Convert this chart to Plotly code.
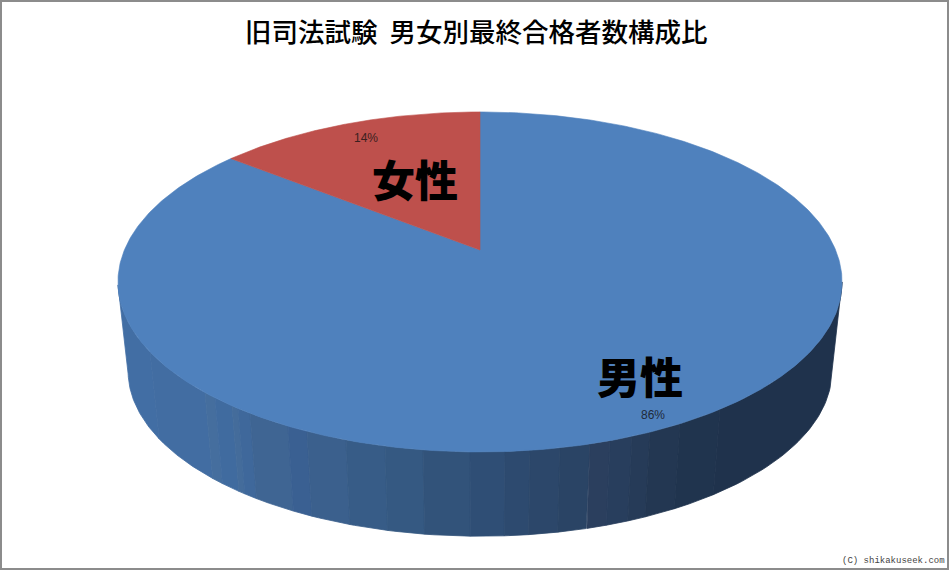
import numpy as np
import plotly.graph_objects as go

title = "旧司法試験  男女別最終合格者数構成比"
categories = ["男性", "女性"]
shares = [85.7, 14.3]
share_labels = ["86%", "14%"]
slice_colors = ["#4F81BD", "#BE504C"]
credit = "(C) shikakuseek.com"

# Rim shading: left edge of each band in pixels on the upper rim, with its colour
rim_stops = [118, 150, 205, 215, 232, 238, 250, 288, 307, 346, 385, 423, 470, 505, 530, 560, 590, 610, 632, 650, 680, 720]
rim_colors = ["#426EA4", "#426DA2", "#456E9E", "#406B9F", "#446C9B", "#3F689B", "#3F6593", "#3A6092",
              "#3B608D", "#375C87", "#355982", "#32537A", "#2F4E75", "#2D4A6F", "#2C476A", "#2A4465",
              "#2B3F5E", "#283E5D", "#263B58", "#233752", "#20344E", "#1F324C"]

# Perspective projection of the disc onto the page
CX, CY, A, B, K = 480.0, 250.0, 355.6, 164.0, -0.188
WIDE_Y, LOWER_WIDE_Y, LOWER_SCALE = 282.0, 371.0, 0.972


def top_point(theta):
    u, v = np.sin(theta), -np.cos(theta)
    d = 1 + K * v
    return CX + A * u / d, CY + B * v / d


def lower_point(theta):
    x, y = top_point(theta)
    return CX + (x - CX) * LOWER_SCALE, LOWER_WIDE_Y + (y - WIDE_Y) * LOWER_SCALE


fig = go.Figure()

# Rim bands
t_left, t_right = np.arccos(-0.188) * -1 + 2 * np.pi, np.arccos(-0.188)
grid = np.linspace(t_left, t_right, 1500)
grid_x = top_point(grid)[0]
edges = rim_stops + [float(grid_x[-1])]
to_theta = lambda px: float(np.interp(px, grid_x, grid))
for i, colour in enumerate(rim_colors):
    th = np.linspace(to_theta(edges[i]), to_theta(edges[i + 1]), 40)
    tx, ty = top_point(th)
    lx, ly = lower_point(th[::-1])
    fig.add_trace(go.Scatter(x=np.r_[tx, lx, tx[0]], y=np.r_[ty, ly, ty[0]], mode="lines", fill="toself",
                             fillcolor=colour, line=dict(color=colour, width=0.8), hoverinfo="skip", showlegend=False))

# Top face slices, clockwise from twelve o'clock
start = 0.0
total = sum(shares)
for name, share, colour in zip(categories, shares, slice_colors):
    end = start + 2 * np.pi * share / total
    th = np.linspace(start, end, 500)
    ax, ay = top_point(th)
    fig.add_trace(go.Scatter(x=np.r_[CX, ax, CX], y=np.r_[CY, ay, CY], mode="lines", fill="toself", name=name,
                             fillcolor=colour, line=dict(color=colour, width=0.6), hoverinfo="skip", showlegend=False))
    start = end

FONT = "Noto Sans CJK JP"
annotations = [
    dict(x=476, y=30, text=title.replace(" ", "\u00a0"), font=dict(family=FONT, size=26.5, color="#000000", weight=500)),
    dict(x=640, y=375, text=categories[0], font=dict(family=FONT, size=43, color="#000000", weight=900)),
    dict(x=415, y=178, text=categories[1], font=dict(family=FONT, size=43, color="#000000", weight=900)),
    dict(x=653, y=415, text=share_labels[0], font=dict(family="Liberation Sans", size=12, color="#1F2A3A")),
    dict(x=366, y=138, text=share_labels[1], font=dict(family="Liberation Sans", size=12, color="#3A2020")),
    dict(x=893, y=561, text=credit, font=dict(family="Liberation Mono", size=9, color="#444444")),
]
for a in annotations:
    a.update(xref="x", yref="y", showarrow=False, xanchor="center", yanchor="middle")

fig.update_layout(
    width=950, height=571, margin=dict(l=0, r=0, t=0, b=0), autosize=False,
    paper_bgcolor="#FFFFFF", plot_bgcolor="#FFFFFF", showlegend=False,
    xaxis=dict(range=[0, 950], visible=False, fixedrange=True),
    yaxis=dict(range=[571, 0], visible=False, fixedrange=True),
    annotations=annotations,
    shapes=[dict(type="rect", xref="x", yref="y", x0=1, y0=1, x1=948, y1=569,
                 line=dict(color="#8C8C8C", width=2), layer="above")],
)
fig.write_html("out.html", config=dict(displayModeBar=False),
               post_script="document.body.style.margin='0';document.documentElement.style.overflow='hidden';")
